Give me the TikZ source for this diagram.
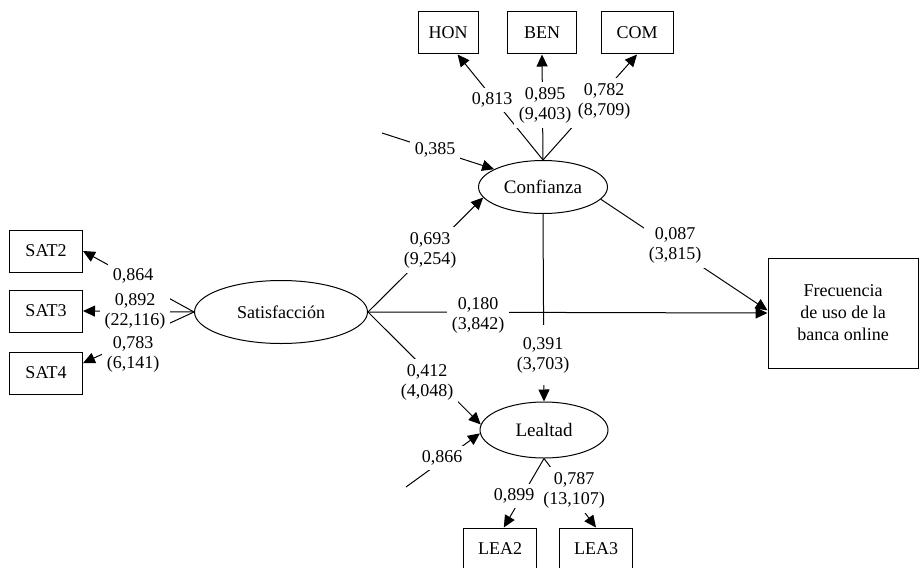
\documentclass[tikz,border=0pt]{standalone}
\usepackage{fontspec}
\setmainfont{Liberation Serif}
\usetikzlibrary{arrows.meta,shapes.geometric}
\begin{document}
\begin{tikzpicture}[x=0.5pt, y=-0.5pt, line width=0.5pt, font=\fontsize{9}{10}\selectfont,
  indbox/.style={draw, minimum height=21pt, minimum width=#1, inner sep=0pt},
  indbox/.default=36.5pt,
  latent/.style={draw, ellipse, inner sep=0pt},
  lbl/.style={fill=white, inner sep=2.5pt, align=center},
  arr/.style={-{Triangle[length=6pt,width=5.5pt]}}]
\useasboundingbox (0,0) rectangle (919,567);

% indicadores
\node (hon) at (448,33) [indbox=30pt] {HON};
\node (ben) at (542,33) [indbox=34.5pt] {BEN};
\node (com) at (637,33) [indbox=36pt] {COM};
\node (sat2) at (46,251) [indbox] {SAT2};
\node (sat3) at (46,311) [indbox] {SAT3};
\node (sat4) at (46,373) [indbox] {SAT4};
\node (lea2) at (500,549) [indbox] {LEA2};
\node (lea3) at (596,549) [indbox] {LEA3};

% constructos
\node (conf) at (543,187) [latent, minimum width=64.5pt, minimum height=26.5pt, font=\fontsize{9.5}{10}\selectfont] {Confianza};
\node (sat) at (281,312) [latent, minimum width=86.5pt, minimum height=31.5pt] {Satisfacción};
\node (lea) at (544,430) [latent, minimum width=64pt, minimum height=28pt, font=\fontsize{9.5}{10}\selectfont] {Lealtad};
\node (frec) at (843,313) [draw, minimum width=75pt, minimum height=55pt, align=center,
  font=\fontsize{9}{11}\selectfont] {Frecuencia\\de uso de la\\banca online};

\coordinate (econf) at (382,133);
\coordinate (elea) at (406,487);

\draw[arr] (conf.north) to (hon.-66);
\draw[arr] (conf.north) to (ben.south);
\draw[arr] (conf.north) to (com.south);
\draw[arr] (sat.west) to (sat2.east);
\draw[arr] (sat.west) to (sat3.east);
\draw[arr] (sat.west) to (sat4.15);
\draw[arr] (lea.south) to (lea2.80);
\draw[arr] (lea.south) to (lea3.north);
\draw[arr] (econf) to (conf.160);
\draw[arr] (elea) to (lea.183);
\draw[arr] (sat.east) to (conf.190);
\draw[arr] (sat.east) to (lea.175);
\draw[arr] (sat.east) to (frec.west);
\draw[arr] (conf.-12) to (frec.178);
\draw[arr] (conf.south) to (lea.north);

% cargas y coeficientes
\node (l1) at (492,100) [lbl] {0,813};
\node (l2) at (545,105) [lbl] {0,895\\(9,403)};
\node (l3) at (604,101) [lbl] {0,782\\(8,709)};
\node (l4) at (435,150) [lbl] {0,385};
\node (l5) at (133,276) [lbl] {0,864};
\node (l6) at (135,311) [lbl] {0,892\\(22,116)};
\node (l7) at (133,354) [lbl] {0,783\\(6,141)};
\node (l8) at (430,250) [lbl] {0,693\\(9,254)};
\node (l9) at (675,245) [lbl] {0,087\\(3,815)};
\node (l10) at (478,315) [lbl] {0,180\\(3,842)};
\node (l11) at (543,355) [lbl, inner ysep=6pt] {0,391\\(3,703)};
\node (l12) at (427,382) [lbl] {0,412\\(4,048)};
\node (l13) at (442,458) [lbl] {0,866};
\node (l15) at (574,490) [lbl, inner xsep=1pt] {0,787\\(13,107)};
\node (l14) at (514,496) [lbl, inner xsep=1pt] {0,899};
\end{tikzpicture}
\end{document}
